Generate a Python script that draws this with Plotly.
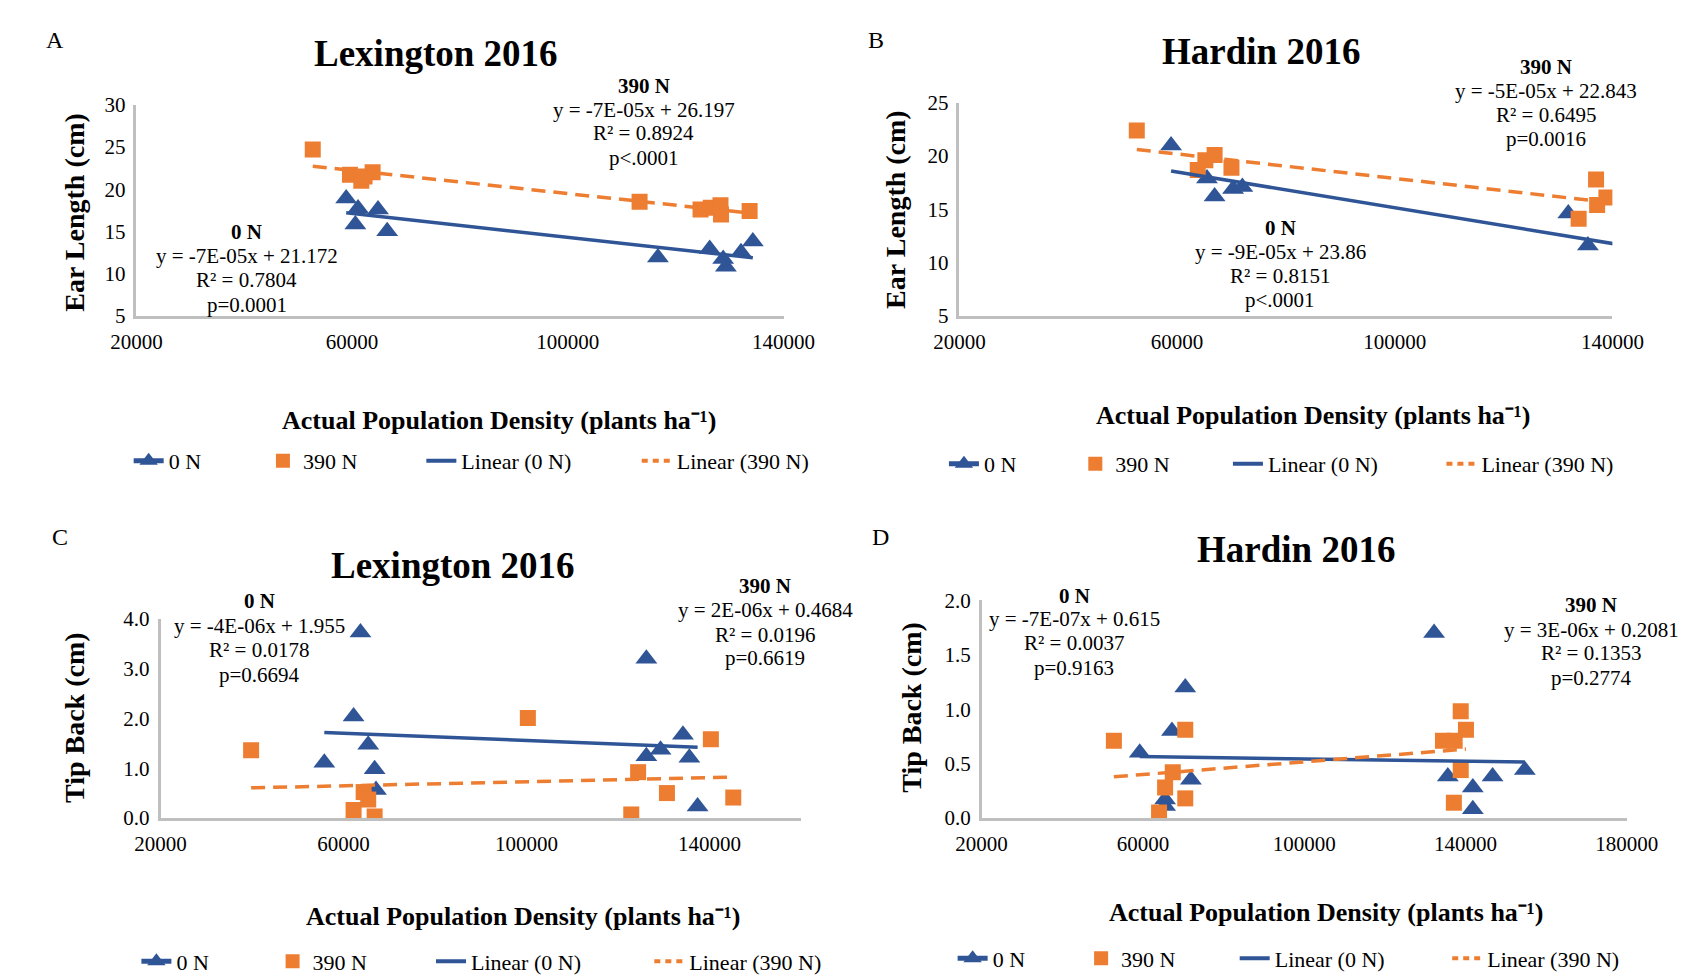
import numpy as np
import plotly.graph_objects as go

W, H = 1704, 979

# ---------------- data ----------------
A_0N_x = [58900, 61100, 60600, 64800, 66500, 116700, 126300, 128800, 129300, 132100, 134300]
A_0N_y = [18.9, 17.7, 15.8, 17.6, 15.0, 11.9, 12.9, 11.7, 10.8, 12.5, 13.8]
A_390_x = [52700, 59600, 61700, 62300, 63800, 113300, 124600, 126500, 128300, 128400, 133700]
A_390_y = [24.7, 21.7, 21.0, 21.5, 22.0, 18.5, 17.6, 17.8, 18.1, 17.0, 17.4]

B_0N_x = [58900, 65500, 66900, 70300, 72000, 131900, 135500, 143000]
B_0N_y = [21.0, 17.9, 16.2, 16.9, 17.1, 14.6, 11.6, 10.5]
B_390_x = [52600, 63800, 65200, 66900, 70000, 133800, 137000, 137200, 138900]
B_390_y = [22.4, 18.7, 19.6, 20.1, 18.9, 14.1, 17.8, 15.4, 16.1]

C_0N_x = [55800, 62200, 63700, 65400, 66800, 67100, 126200, 126200, 129300, 134200, 135600, 137400]
C_0N_y = [1.11, 2.04, 3.73, 1.47, 0.98, 0.56, 3.20, 1.24, 1.37, 1.67, 1.21, 0.23]
C_390_x = [39800, 62200, 64400, 65400, 66800, 100300, 122900, 124400, 130700, 140300, 145200]
C_390_y = [1.36, 0.16, 0.52, 0.37, 0.03, 2.01, 0.07, 0.92, 0.50, 1.58, 0.41]

D_0N_x = [59200, 65500, 65500, 67200, 70500, 71900, 132200, 135600, 141800, 141800, 146700, 154700]
D_0N_y = [0.60, 0.11, 0.17, 0.80, 1.20, 0.35, 1.70, 0.38, 0.28, 0.08, 0.38, 0.44]
D_390_x = [52800, 64000, 65500, 67400, 70500, 70500, 134400, 137100, 137300, 138800, 138800, 140100]
D_390_y = [0.71, 0.05, 0.28, 0.42, 0.81, 0.18, 0.71, 0.14, 0.71, 0.98, 0.44, 0.81]

titles = ["Lexington 2016", "Hardin 2016", "Lexington 2016", "Hardin 2016"]
panel_letters = ["A", "B", "C", "D"]
y_titles = ["Ear Length (cm)", "Ear Length (cm)", "Tip Back (cm)", "Tip Back (cm)"]
x_title = "Actual Population Density (plants ha⁻¹)"
eq_0N = [["0 N", "y = -7E-05x + 21.172", "R² = 0.7804", "p=0.0001"],
         ["0 N", "y = -9E-05x + 23.86", "R² = 0.8151", "p&lt;.0001"],
         ["0 N", "y = -4E-06x + 1.955", "R² = 0.0178", "p=0.6694"],
         ["0 N", "y = -7E-07x + 0.615", "R² = 0.0037", "p=0.9163"]]
eq_390 = [["390 N", "y = -7E-05x + 26.197", "R² = 0.8924", "p&lt;.0001"],
          ["390 N", "y = -5E-05x + 22.843", "R² = 0.6495", "p=0.0016"],
          ["390 N", "y = 2E-06x + 0.4684", "R² = 0.0196", "p=0.6619"],
          ["390 N", "y = 3E-06x + 0.2081", "R² = 0.1353", "p=0.2774"]]
legend_names = ["0 N", "390 N", "Linear (0 N)", "Linear (390 N)"]

data = [(A_0N_x, A_0N_y, A_390_x, A_390_y),
        (B_0N_x, B_0N_y, B_390_x, B_390_y),
        (C_0N_x, C_0N_y, C_390_x, C_390_y),
        (D_0N_x, D_0N_y, D_390_x, D_390_y)]

# ---------------- layout (pixels) ----------------
plot_px = [  # x0, x1, ytop, ybottom
    (106, 776, 87, 303),
    (958, 1634, 85, 303),
    (131, 794, 614, 818),
    (981, 1649, 595, 818),
]
x_ranges = [(20000, 140000), (20000, 140000), (20000, 160000), (20000, 180000)]
y_ranges = [(5, 30, 5, None), (5, 25, 5, None), (0, 4, 1, ".1f"), (0, 2, 0.5, ".1f")]
title_pos = [(416, 34), (1270, 32), (434, 559), (1306, 543)]
letter_pos = [(22, 20), (872, 20), (27, 530), (876, 530)]
ytitle_pos = [(42, 197), (892, 194), (42, 715), (909, 705)]
xtitle_pos = [(481, 411), (1324, 405), (506, 919), (1338, 915)]
eq0_pos = [(220, [217, 242, 267, 292]), (1290, [213, 238, 262, 287]),
           (233, [596, 621, 646, 671]), (1077, [590, 614, 639, 664])]
eq390_pos = [(631, [68, 92, 116, 141]), (1565, [48, 73, 97, 122]),
             (757, [580, 605, 630, 654]), (1612, [600, 625, 649, 675])]
legend_text_x = [[142, 281, 445, 668], [986, 1122, 1280, 1501],
                 [150, 291, 455, 681], [995, 1128, 1287, 1507]]
legend_y = [452, 455, 965, 962]

BLUE = "#2F5597"
ORANGE = "#ED7D31"
SERIF = "Liberation Serif"

fig = go.Figure()
layout = dict(width=W, height=H, margin=dict(l=0, r=0, t=0, b=0),
              paper_bgcolor="white", plot_bgcolor="white", showlegend=True)
annotations = []

def px_x(p):
    return p / W

def px_y(p):
    return 1 - p / H

leg_idx = 0
for i in range(4):
    sfx = "" if i == 0 else str(i + 1)
    xa, ya = "x" + sfx, "y" + sfx
    x0, x1, yt, yb = plot_px[i]
    xr = x_ranges[i]
    y0, y1, ydt, yfmt = y_ranges[i]
    layout["xaxis" + sfx] = dict(
        domain=[px_x(x0), px_x(x1)], range=list(xr), anchor=ya,
        tick0=20000, dtick=40000, tickformat="d",
        showline=True, linecolor="#BFBFBF", linewidth=2.5, showgrid=False, zeroline=False,
        ticks="outside", ticklen=5, tickcolor="rgba(0,0,0,0)",
        tickfont=dict(family=SERIF, size=21, color="black"))
    ydict = dict(
        domain=[px_y(yb), px_y(yt)], range=[y0, y1], anchor=xa,
        tick0=y0, dtick=ydt,
        showline=True, linecolor="#BFBFBF", linewidth=2.5, showgrid=False, zeroline=False,
        ticks="outside", ticklen=4, tickcolor="rgba(0,0,0,0)",
        tickfont=dict(family=SERIF, size=21, color="black"))
    if yfmt:
        ydict["tickformat"] = yfmt
    layout["yaxis" + sfx] = ydict

    x0n, y0n, x39, y39 = data[i]
    fig.add_trace(go.Scatter(x=x0n, y=y0n, mode="markers", xaxis=xa, yaxis=ya, showlegend=False,
                             marker=dict(symbol="triangle-up", size=19, color=BLUE)))
    fig.add_trace(go.Scatter(x=x39, y=y39, mode="markers", xaxis=xa, yaxis=ya, showlegend=False,
                             marker=dict(symbol="square", size=16, color=ORANGE)))
    # linear trendlines (least squares over each series' x range)
    for xs, ys, col, dash in [(x0n, y0n, BLUE, "solid"), (x39, y39, ORANGE, "14px,8px")]:
        xs_a = np.array(xs, dtype=float)
        ys_a = np.array(ys, dtype=float)
        m, b = np.polyfit(xs_a, ys_a, 1)
        lx = np.array([xs_a.min(), xs_a.max()])
        fig.add_trace(go.Scatter(x=lx, y=m * lx + b, mode="lines", xaxis=xa, yaxis=ya,
                                 showlegend=False, line=dict(color=col, width=3.5, dash=dash)))

    styles = [
        dict(mode="lines+markers", marker=dict(symbol="triangle-up", size=16, color=BLUE),
             line=dict(color=BLUE, width=5)),
        dict(mode="markers", marker=dict(symbol="square", size=14, color=ORANGE)),
        dict(mode="lines", line=dict(color=BLUE, width=4)),
        dict(mode="lines", line=dict(color=ORANGE, width=4, dash="6px,5px")),
    ]
    for k in range(4):
        leg_idx += 1
        lname = "legend" if leg_idx == 1 else "legend" + str(leg_idx)
        fig.add_trace(go.Scatter(x=[None], y=[None], xaxis=xa, yaxis=ya, name=legend_names[k],
                                 legend=lname, showlegend=True, **styles[k]))
        layout[lname] = dict(x=px_x(legend_text_x[i][k] - 44), y=px_y(legend_y[i]),
                             xanchor="left", yanchor="middle", orientation="h",
                             bgcolor="rgba(0,0,0,0)", borderwidth=0,
                             font=dict(family=SERIF, size=22, color="black"))

    tx, ty = title_pos[i]
    annotations.append(dict(text="<b>" + titles[i] + "</b>", x=px_x(tx), y=px_y(ty),
                            xref="paper", yref="paper", showarrow=False,
                            xanchor="center", yanchor="middle",
                            font=dict(family=SERIF, size=37, color="black")))
    lx_, ly_ = letter_pos[i]
    annotations.append(dict(text=panel_letters[i], x=px_x(lx_), y=px_y(ly_),
                            xref="paper", yref="paper", showarrow=False,
                            xanchor="center", yanchor="middle",
                            font=dict(family=SERIF, size=24, color="black")))
    yx, yy = ytitle_pos[i]
    annotations.append(dict(text="<b>" + y_titles[i] + "</b>", x=px_x(yx), y=px_y(yy),
                            xref="paper", yref="paper", showarrow=False, textangle=-90,
                            xanchor="center", yanchor="middle",
                            font=dict(family=SERIF, size=28, color="black")))
    xx, xy = xtitle_pos[i]
    annotations.append(dict(text="<b>" + x_title + "</b>", x=px_x(xx), y=px_y(xy),
                            xref="paper", yref="paper", showarrow=False,
                            xanchor="center", yanchor="middle",
                            font=dict(family=SERIF, size=26, color="black")))
    for lines, (cx, cys) in [(eq_0N[i], eq0_pos[i]), (eq_390[i], eq390_pos[i])]:
        for j, (t, cy) in enumerate(zip(lines, cys)):
            annotations.append(dict(text=("<b>" + t + "</b>") if j == 0 else t,
                                    x=px_x(cx), y=px_y(cy), xref="paper", yref="paper",
                                    showarrow=False, xanchor="center", yanchor="middle",
                                    font=dict(family=SERIF, size=21, color="black")))

layout["annotations"] = annotations
fig.update_layout(**layout)
fig.write_html("out.html")
